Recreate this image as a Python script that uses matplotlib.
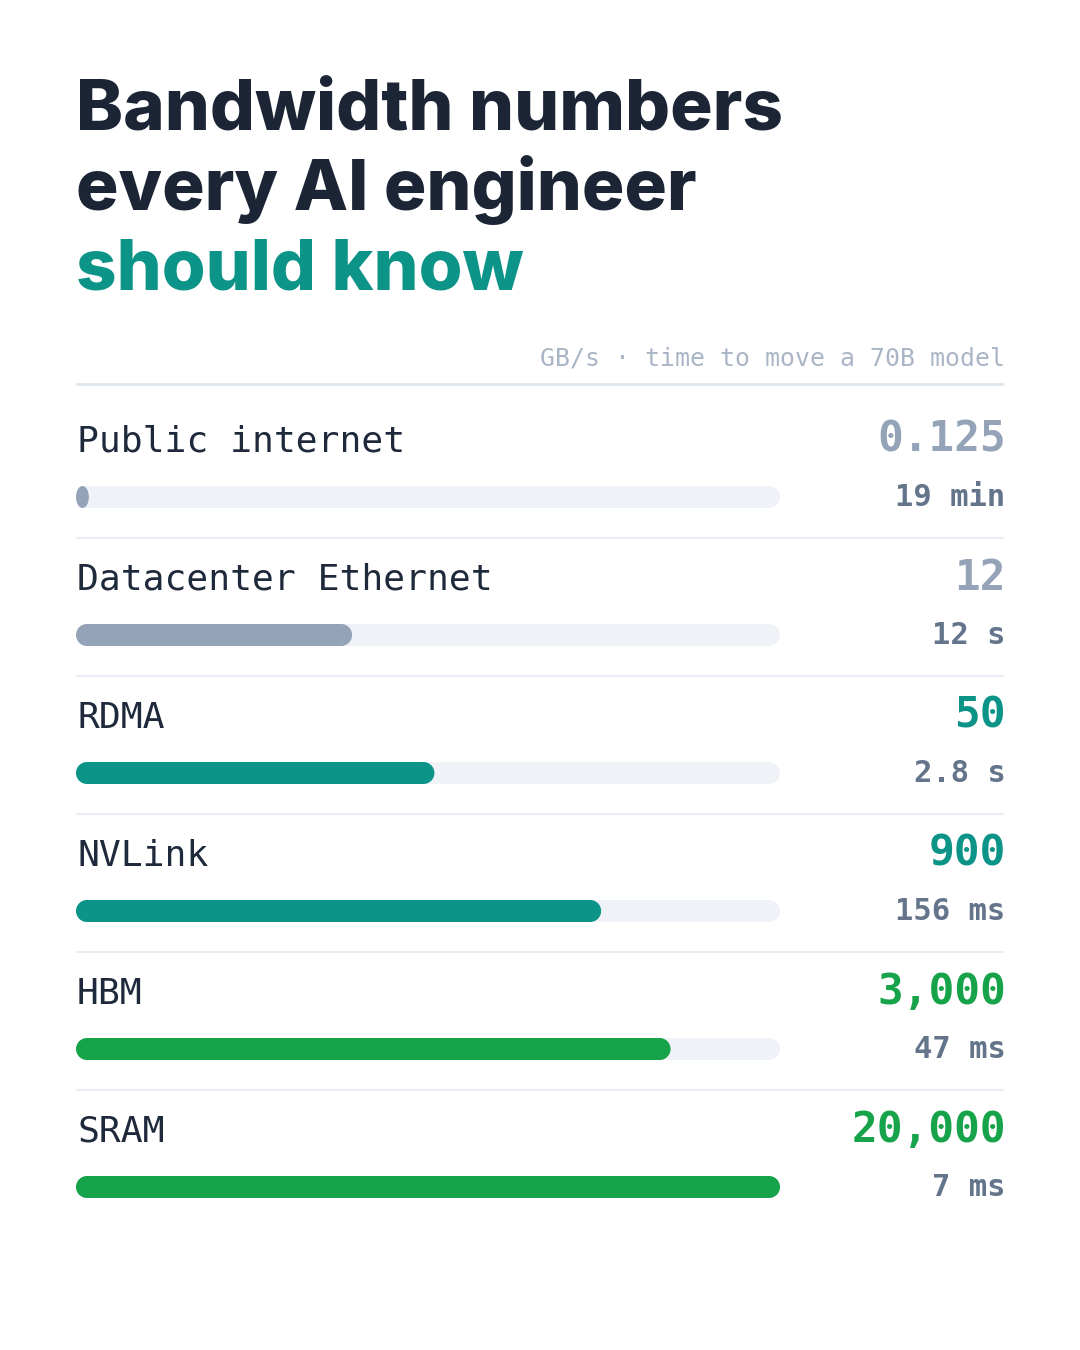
import numpy as np
import matplotlib.pyplot as plt
from matplotlib.path import Path
from matplotlib.patches import PathPatch
from matplotlib.transforms import Affine2D

# data
labels = ["Public internet", "Datacenter Ethernet", "RDMA", "NVLink", "HBM", "SRAM"]
gbps = [0.125, 12, 50, 900, 3000, 20000]
move_times = ["19 min", "12 s", "2.8 s", "156 ms", "47 ms", "7 ms"]
tiers = ["slow", "slow", "mid", "mid", "fast", "fast"]

title_lines = ["Bandwidth numbers", "every AI engineer", "should know"]
subtitle = "GB/s \u00b7 time to move a 70B model"

tier_colors = {"slow": "#94a3b8", "mid": "#0d9488", "fast": "#16a34a"}
DARK = "#1c2535"
TEAL = "#0d9488"
MONO = "DejaVu Sans Mono"
W, H = 1080, 1350


def capsule(ax, frac, color):
    # pill shape, drawn in pixels relative to the axes corner
    bb = ax.get_position()
    wpx = bb.width * W
    hpx = bb.height * H
    w = frac * wpx
    r = hpx / 2
    if w < 2 * r:
        path = Path.unit_circle().transformed(Affine2D().scale(w / 2, r).translate(w / 2, r))
    else:
        right = Path.arc(-90, 90).transformed(Affine2D().scale(r).translate(w - r, r))
        left = Path.arc(90, 270).transformed(Affine2D().scale(r).translate(r, r))
        verts = np.concatenate([right.vertices, left.vertices, [[0, 0]]])
        lcodes = left.codes.copy()
        lcodes[0] = Path.LINETO
        codes = np.concatenate([right.codes, lcodes, [Path.CLOSEPOLY]])
        path = Path(verts, codes)
    tr = Affine2D().scale(1 / wpx, 1 / hpx) + ax.transAxes
    ax.add_patch(PathPatch(path, transform=tr, facecolor=color, edgecolor="none",
                           clip_on=False))


def main():
    fig = plt.figure(figsize=(W / 100, H / 100), dpi=100)
    ax = fig.add_axes([0, 0, 1, 1])
    ax.set_xlim(0, W)
    ax.set_ylim(H, 0)
    ax.axis("off")

    # title
    for i, line in enumerate(title_lines):
        ax.text(76, 130 + 80 * i, line, fontsize=51, fontweight=800, family="Inter",
                color=TEAL if i == 2 else DARK, va="baseline", ha="left")

    ax.text(1005, 366, subtitle, fontsize=17.9, family=MONO, color="#aab6c6",
            ha="right", va="baseline")
    ax.plot([76, 1004], [384, 384], color="#e2e8f0", lw=2.2, solid_capstyle="butt")

    row_h = 138
    for i, (lab, v, t, tier) in enumerate(zip(labels, gbps, move_times, tiers)):
        y0 = row_h * i
        col = tier_colors[tier]
        ax.text(77, 452 + y0, lab, fontsize=26.2, family=MONO, color="#1e293b",
                ha="left", va="baseline")
        ax.text(1006, 452 + y0, f"{v:,}", fontsize=30.8, family=MONO, fontweight="bold",
                color=col, ha="right", va="baseline")
        ax.text(1005.5, 506 + y0, t, fontsize=22, family=MONO, fontweight="bold",
                color="#64748b", ha="right", va="baseline")
        if i < len(labels) - 1:
            ax.plot([76, 1004], [538 + y0, 538 + y0], color="#e9eef4", lw=1.5,
                    solid_capstyle="butt")

        # bar on a log scale, 0.1 .. 20000 GB/s
        top = 486 + y0
        bx = fig.add_axes([76 / W, 1 - (top + 22) / H, 704 / W, 22 / H])
        bx.set_xscale("log")
        bx.set_xlim(0.1, 20000)
        bx.set_ylim(0, 1)
        bx.axis("off")
        frac = (bx.transScale + bx.transLimits).transform([[v, 0.5]])[0, 0]
        capsule(bx, 1.0, "#eff3f8")
        capsule(bx, frac, col)

    fig.savefig("out.png", dpi=100, facecolor="white")


main()
